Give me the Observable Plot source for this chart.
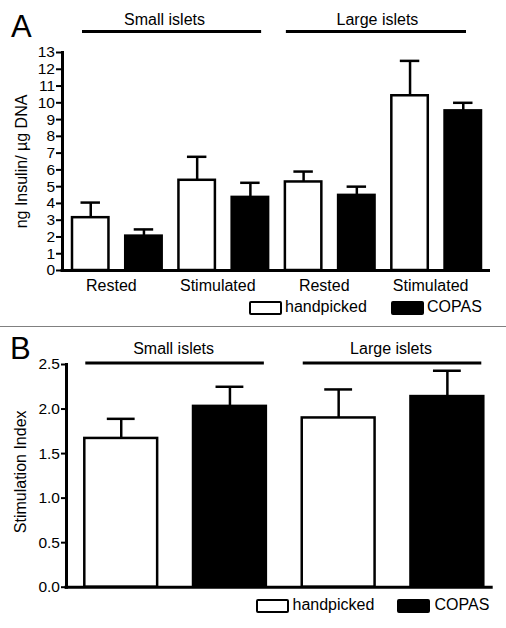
<!DOCTYPE html>
<html>
<head>
<meta charset="utf-8">
<script src="https://cdn.jsdelivr.net/npm/d3@7"></script>
<script src="https://cdn.jsdelivr.net/npm/@observablehq/plot@0.6"></script>
<style>
  html, body { margin: 0; padding: 0; background: #fff; }
  body { font-family: "Liberation Sans", Arial, Helvetica, sans-serif; color: #000; }
  #wrap { position: relative; width: 506px; height: 628px; overflow: hidden; background: #fff; }
  .abs { position: absolute; }
  .letter { position: absolute; font-size: 31px; line-height: 30px; }
  .divider { position: absolute; left: 0; width: 506px; height: 1.5px; background: #808080; }
  .sw { position: absolute; box-sizing: border-box; height: 14px; width: 33px; border: 2.5px solid #000; border-radius: 2px; }
  .lt { position: absolute; font-size: 16px; line-height: 16px; white-space: nowrap; }
</style>
</head>
<body>
<div id="wrap">
  <div id="panelA" class="abs" style="left:0;top:0;"></div>
  <div class="divider" style="top:325.5px;"></div>
  <div id="panelB" class="abs" style="left:0;top:328px;"></div>
  <div class="letter" style="left:11px;top:12px;">A</div>
  <div class="letter" style="left:10px;top:334px;">B</div>
  <div id="legendA"></div>
  <div id="legendB"></div>
</div>
<script>
// ---------- data ----------
const methods = ["handpicked", "COPAS"];
const methodColors = ["white", "black"];

// Panel A: ng Insulin / µg DNA
const conditionsA = ["Rested", "Stimulated", "Rested", "Stimulated"];
const isletGroupsA = ["Small islets", "Small islets", "Large islets", "Large islets"];
const insulinHandpicked = [3.15, 5.38, 5.28, 10.42];
const insulinHandpickedSem = [0.90, 1.40, 0.62, 2.08];
const insulinCopas = [2.05, 4.36, 4.48, 9.52];
const insulinCopasSem = [0.40, 0.87, 0.52, 0.48];
const insulinTicks = [0, 1, 2, 3, 4, 5, 6, 7, 8, 9, 10, 11, 12, 13];
const insulinLabel = "ng Insulin/ µg DNA";

// Panel B: Stimulation index
const isletGroupsB = ["Small islets", "Large islets"];
const siHandpicked = [1.67, 1.90];
const siHandpickedSem = [0.22, 0.32];
const siCopas = [2.03, 2.14];
const siCopasSem = [0.22, 0.29];
const siTicks = [0, 0.5, 1.0, 1.5, 2.0, 2.5];
const siLabel = "Stimulation Index";

// ---------- tables ----------
const rowsA = [];
conditionsA.forEach((cond, i) => {
  rowsA.push({key: i + "h", pair: i, group: isletGroupsA[i], cond, method: methods[0], mean: insulinHandpicked[i], sem: insulinHandpickedSem[i]});
  rowsA.push({key: i + "c", pair: i, group: isletGroupsA[i], cond, method: methods[1], mean: insulinCopas[i], sem: insulinCopasSem[i]});
});
const keysA = rowsA.map(d => d.key);
const pairLabelsA = conditionsA.map((c, i) => ({key: i + "h", label: c}));
const headersA = [
  {label: "Small islets", from: "0h", to: "1c", mid: "0c"},
  {label: "Large islets", from: "2h", to: "3c", mid: "2c"}
];
// style-only insets for the header rules of panel A
const headerInsetsA = [{l: 10, r: 7}, {l: 1, r: 15}];

const rowsB = [];
isletGroupsB.forEach((g, i) => {
  rowsB.push({key: i + "h", group: g, method: methods[0], mean: siHandpicked[i], sem: siHandpickedSem[i]});
  rowsB.push({key: i + "c", group: g, method: methods[1], mean: siCopas[i], sem: siCopasSem[i]});
});
const keysB = rowsB.map(d => d.key);
const headersB = [
  {label: "Small islets", from: "0h", to: "0c", mid: "0h"},
  {label: "Large islets", from: "1h", to: "1c", mid: "1h"}
];

const font = "'Liberation Sans', Arial, Helvetica, sans-serif";

// ---------- panel A ----------
const xRangeA = [72, 481], padInnerA = 0.315;
const stepA = (xRangeA[1] - xRangeA[0]) / (keysA.length - padInnerA);
const chartA = Plot.plot({
  width: 506, height: 325,
  marginTop: 52, marginBottom: 55, marginLeft: 62, marginRight: 16,
  style: {fontFamily: font, fontSize: "16px", background: "white", color: "black", overflow: "visible"},
  x: {type: "band", domain: keysA, range: xRangeA, paddingInner: padInnerA, paddingOuter: 0, round: false, axis: null},
  y: {domain: [0, 13], axis: null},
  color: {domain: methods, range: methodColors},
  marks: [
    Plot.ruleX(rowsA, {x: "key", y1: "mean", y2: d => d.mean + d.sem, stroke: "black", strokeWidth: 2.5}),
    Plot.tickY(rowsA, {x: "key", y: d => d.mean + d.sem, stroke: "black", strokeWidth: 2.5, insetLeft: 8.5, insetRight: 8.5}),
    Plot.barY(rowsA, {x: "key", y: "mean", fill: "method", stroke: "black", strokeWidth: 2.5}),
    Plot.axisY(insulinTicks, {tickSize: 6, tickPadding: 1.5, fontSize: 15.5, strokeWidth: 2, label: null}),
    Plot.frame({anchor: "left", strokeWidth: 3}),
    Plot.ruleY([0], {strokeWidth: 3, insetLeft: -1.5}),
    Plot.text([insulinLabel], {frameAnchor: "left", textAnchor: "middle", lineAnchor: "middle", rotate: -90, dx: -41, fontSize: 16}),
    Plot.text(pairLabelsA, {x: "key", text: "label", frameAnchor: "bottom", lineAnchor: "middle", dy: 15, dx: stepA / 2 - 6, fontSize: 16}),
    ...headersA.map((h, i) => Plot.ruleY([h], {y: () => 13, x1: "from", x2: "to", dy: -21, strokeWidth: 3, insetLeft: headerInsetsA[i].l, insetRight: headerInsetsA[i].r})),
    Plot.text(headersA, {x: "mid", text: "label", frameAnchor: "top", lineAnchor: "middle", dy: -33, dx: stepA / 2 - 6, fontSize: 16})
  ]
});
document.getElementById("panelA").appendChild(chartA);

// ---------- panel B ----------
const xRangeB = [84.3, 483.3], padInnerB = 0.33;
const stepB = (xRangeB[1] - xRangeB[0]) / (keysB.length - padInnerB);
const chartB = Plot.plot({
  width: 506, height: 300,
  marginTop: 36, marginBottom: 41.3, marginLeft: 66, marginRight: 13.3,
  style: {fontFamily: font, fontSize: "16px", background: "white", color: "black", overflow: "visible"},
  x: {type: "band", domain: keysB, range: xRangeB, paddingInner: padInnerB, paddingOuter: 0, round: false, axis: null},
  y: {domain: [0, 2.5], axis: null},
  color: {domain: methods, range: methodColors},
  marks: [
    Plot.ruleX(rowsB, {x: "key", y1: "mean", y2: d => d.mean + d.sem, stroke: "black", strokeWidth: 2.5}),
    Plot.tickY(rowsB, {x: "key", y: d => d.mean + d.sem, stroke: "black", strokeWidth: 2.5, insetLeft: 22.5, insetRight: 22.5}),
    Plot.barY(rowsB, {x: "key", y: "mean", fill: "method", stroke: "black", strokeWidth: 2.5}),
    Plot.axisY(siTicks, {tickSize: 5, tickPadding: 1.5, fontSize: 15.5, strokeWidth: 2, tickFormat: d3.format(".1f"), label: null}),
    Plot.frame({anchor: "left", strokeWidth: 3}),
    Plot.ruleY([0], {strokeWidth: 3, insetLeft: -1.5}),
    Plot.text([siLabel], {frameAnchor: "left", textAnchor: "middle", lineAnchor: "middle", rotate: -90, dx: -46, dy: -4, fontSize: 16}),
    Plot.ruleY(headersB, {y: () => 2.5, x1: "from", x2: "to", dy: -1.5, strokeWidth: 3, insetLeft: 1, insetRight: 2}),
    Plot.text(headersB, {x: "mid", text: "label", frameAnchor: "top", lineAnchor: "middle", dy: -16, dx: stepB / 2 - 2, fontSize: 16})
  ]
});
document.getElementById("panelB").appendChild(chartB);

// ---------- legends ----------
function legend(containerId, items) {
  const el = document.getElementById(containerId);
  items.forEach(it => {
    const sw = document.createElement("div");
    sw.className = "sw";
    sw.style.left = it.swLeft + "px";
    sw.style.top = it.top + "px";
    sw.style.background = it.color;
    el.appendChild(sw);
    const t = document.createElement("div");
    t.className = "lt";
    t.style.left = it.textLeft + "px";
    t.style.top = (it.top - 1.5) + "px";
    t.textContent = it.label;
    el.appendChild(t);
  });
}
legend("legendA", [
  {label: methods[0], color: methodColors[0], swLeft: 248.5, textLeft: 285, top: 300.5},
  {label: methods[1], color: methodColors[1], swLeft: 390.5, textLeft: 427, top: 300.5}
]);
legend("legendB", [
  {label: methods[0], color: methodColors[0], swLeft: 256, textLeft: 292.5, top: 598.5},
  {label: methods[1], color: methodColors[1], swLeft: 396.5, textLeft: 434.5, top: 598.5}
]);
</script>
</body>
</html>
